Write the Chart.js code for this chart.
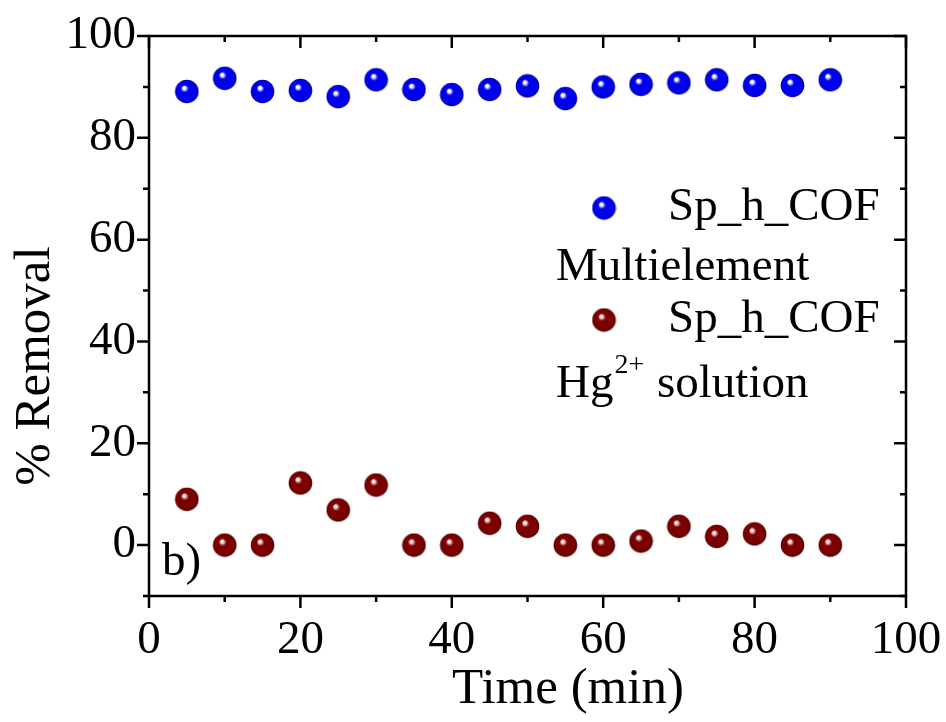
<!DOCTYPE html>
<html>
<head>
<meta charset="utf-8">
<script src="https://cdn.jsdelivr.net/npm/chart.js@4.4.1/dist/chart.umd.min.js"></script>
<style>
  html, body { margin: 0; padding: 0; background: #ffffff; }
  #wrap { width: 946px; height: 722px; }
</style>
</head>
<body>
<div id="wrap"><canvas id="chart"></canvas></div>
<script>
// Removal over time for the two test solutions
const timeMin = [5, 10, 15, 20, 25, 30, 35, 40, 45, 50, 55, 60, 65, 70, 75, 80, 85, 90];
const multielement = [89.1, 91.7, 89.1, 89.3, 88.1, 91.4, 89.5, 88.5, 89.5, 90.2, 87.7, 90.0, 90.5, 90.8, 91.4, 90.3, 90.3, 91.4];
const hgSolution = [9.0, 0.0, 0.0, 12.2, 6.9, 11.8, 0.0, 0.0, 4.3, 3.7, 0.0, 0.0, 0.8, 3.7, 1.7, 2.2, 0.0, 0.0];
const xTickLabels = [0, 20, 40, 60, 80, 100];
const yTickLabels = [0, 20, 40, 60, 80, 100];

const SERIF = "'Liberation Serif', 'Times New Roman', serif";
const FONT_SIZE = 47;
const TITLE_SIZE = 51;

// Shaded sphere used as the point marker
function sphere(base, rim, hi) {
  const r = 11.8;
  const size = 25;
  const c = document.createElement('canvas');
  c.width = size; c.height = size;
  const g = c.getContext('2d');
  const cx = size / 2, cy = size / 2;
  const grad = g.createRadialGradient(cx - 3, cy - 4, 0, cx, cy, r);
  grad.addColorStop(0, hi);
  grad.addColorStop(0.12, hi);
  grad.addColorStop(0.32, base);
  grad.addColorStop(0.82, base);
  grad.addColorStop(1, rim);
  g.fillStyle = grad;
  g.beginPath();
  g.arc(cx, cy, r, 0, Math.PI * 2);
  g.fill();
  return c;
}
const blueBall = sphere('#0000f0', '#00009a', '#ffffff');
const redBall = sphere('#7d0000', '#4a0000', '#ffeaea');

const frameAndText = {
  id: 'frameAndText',
  afterDraw(chart) {
    const { ctx, chartArea: a, scales } = chart;
    const xs = scales.x, ys = scales.y;
    ctx.save();
    ctx.strokeStyle = '#000';
    ctx.lineWidth = 2.5;
    ctx.strokeRect(a.left, a.top, a.right - a.left, a.bottom - a.top);

    // ticks: outward on bottom/left, inward on top/right
    ctx.beginPath();
    for (let v = 0; v <= 100; v += 10) {
      const px = xs.getPixelForValue(v);
      const len = v % 20 === 0 ? 12 : 6;
      ctx.moveTo(px, a.bottom); ctx.lineTo(px, a.bottom + len);
      ctx.moveTo(px, a.top); ctx.lineTo(px, a.top + len);
    }
    for (let v = -10; v <= 100; v += 10) {
      const py = ys.getPixelForValue(v);
      const len = v % 20 === 0 ? 12 : 6;
      ctx.moveTo(a.left, py); ctx.lineTo(a.left - len, py);
      ctx.moveTo(a.right, py); ctx.lineTo(a.right - len, py);
    }
    ctx.stroke();

    ctx.fillStyle = '#000';
    ctx.textBaseline = 'middle';

    // axis titles
    ctx.font = TITLE_SIZE + 'px ' + SERIF;
    ctx.textAlign = 'center';
    ctx.fillText('Time (min)', 568, 690);
    ctx.save();
    ctx.translate(36, 366);
    ctx.rotate(-Math.PI / 2);
    ctx.fillText('% Removal', 0, 0);
    ctx.restore();

    // panel label
    ctx.font = FONT_SIZE + 'px ' + SERIF;
    ctx.textAlign = 'left';
    ctx.fillText('b)', 162, 563);

    // legend
    ctx.drawImage(blueBall, 604 - 12.5, 208 - 12.5);
    ctx.fillText('Sp_h_COF', 668, 208);
    ctx.fillText('Multielement', 556, 268);
    ctx.drawImage(redBall, 604 - 12.5, 320 - 12.5);
    ctx.fillText('Sp_h_COF', 668, 320);
    ctx.fillText('Hg', 556, 385);
    const hgW = ctx.measureText('Hg').width;
    ctx.font = '28px ' + SERIF;
    ctx.fillText('2+', 556 + hgW + 1, 366);
    const supW = ctx.measureText('2+').width;
    ctx.font = FONT_SIZE + 'px ' + SERIF;
    ctx.fillText(' solution', 556 + hgW + supW + 2, 385);
    ctx.restore();
  }
};

new Chart(document.getElementById('chart'), {
  type: 'scatter',
  data: {
    datasets: [
      {
        label: 'Sp_h_COF Multielement',
        data: timeMin.map((t, i) => ({ x: t, y: multielement[i] })),
        pointStyle: blueBall,
        pointRadius: 12,
        pointHoverRadius: 12
      },
      {
        label: 'Sp_h_COF Hg2+ solution',
        data: timeMin.map((t, i) => ({ x: t, y: hgSolution[i] })),
        pointStyle: redBall,
        pointRadius: 12,
        pointHoverRadius: 12
      }
    ]
  },
  options: {
    responsive: true,
    maintainAspectRatio: false,
    animation: false,
    layout: { padding: { top: 36, right: 40, left: 0, bottom: 0 } },
    plugins: { legend: { display: false }, tooltip: { enabled: false } },
    scales: {
      x: {
        type: 'linear',
        min: 0, max: 100,
        border: { display: false },
        grid: { display: false, drawTicks: false },
        ticks: {
          stepSize: 10,
          padding: 16,
          maxRotation: 0,
          autoSkip: false,
          color: '#000',
          font: { family: SERIF, size: FONT_SIZE },
          callback: v => (xTickLabels.includes(v) ? String(v) : '')
        },
        afterFit: s => { s.height = 126; s.paddingLeft = 0; s.paddingRight = 0; }
      },
      y: {
        type: 'linear',
        min: -10, max: 100,
        border: { display: false },
        grid: { display: false, drawTicks: false },
        ticks: {
          stepSize: 10,
          padding: 13,
          autoSkip: false,
          color: '#000',
          font: { family: SERIF, size: FONT_SIZE },
          callback: v => (yTickLabels.includes(v) ? String(v) : '')
        },
        afterFit: s => { s.width = 149; s.paddingTop = 0; s.paddingBottom = 0; }
      }
    }
  },
  plugins: [frameAndText]
});
</script>
</body>
</html>
